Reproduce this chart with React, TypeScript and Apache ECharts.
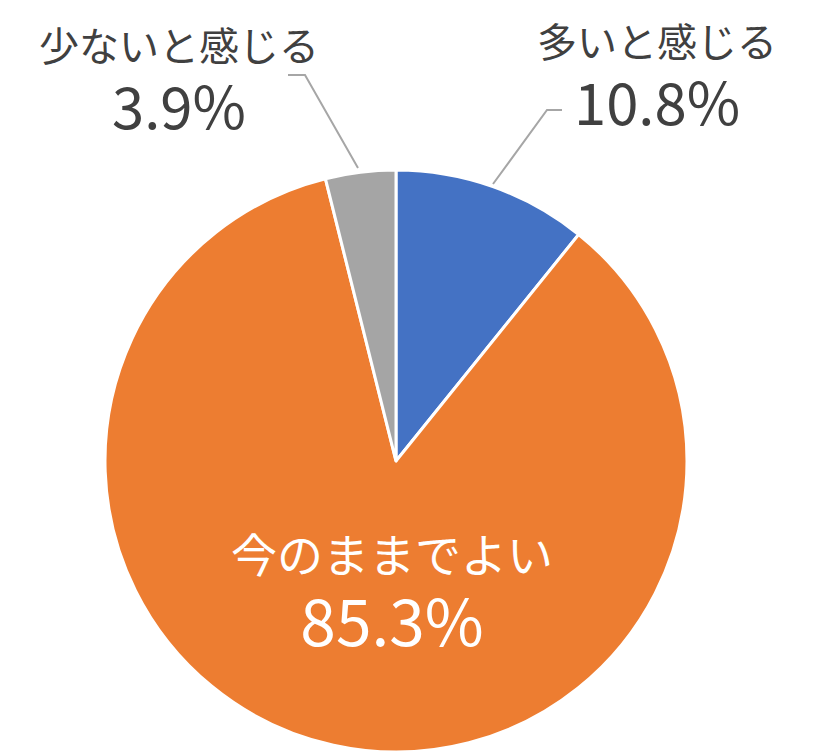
import React, { useEffect, useRef } from "react";
import * as echarts from "echarts";

const categories = ["多いと感じる", "今のままでよい", "少ないと感じる"];
const values = [10.8, 85.3, 3.9];
const colors = ["#4472C4", "#ED7D31", "#A5A5A5"];

const FONT = '"Noto Sans CJK JP", "Noto Sans", sans-serif';

export default function App() {
  const ref = useRef<HTMLDivElement>(null);
  useEffect(() => {
    if (!ref.current) return;
    const chart = echarts.init(ref.current, undefined, { renderer: "svg" });
    const data = categories.map((name, i) => ({
      name,
      value: values[i],
      itemStyle: { color: colors[i] },
      label: { position: i === 1 ? "inside" : "outside" },
      labelLine: { show: i !== 1 },
    }));
    chart.setOption({
      animation: false,
      backgroundColor: "#ffffff",
      series: [
        {
          type: "pie",
          center: [396, 461],
          radius: 291,
          startAngle: 90,
          clockwise: true,
          silent: true,
          data,
          itemStyle: { borderColor: "#ffffff", borderWidth: 3 },
          label: {
            show: true,
            fontFamily: FONT,
            formatter: (p: any) =>
              p.dataIndex === 1
                ? `{on|${p.name}}\n{ov|${p.value.toFixed(1)}%}`
                : `{n|${p.name}}\n{v|${p.value.toFixed(1)}%}`,
            rich: {
              n: { fontFamily: FONT, fontSize: 40, lineHeight: 56, color: "#404040", align: "center" },
              v: { fontFamily: FONT, fontSize: 58, lineHeight: 64, color: "#404040", align: "center" },
              on: { fontFamily: FONT, fontSize: 46, lineHeight: 60, color: "#ffffff", align: "center" },
              ov: { fontFamily: FONT, fontSize: 64, lineHeight: 72, color: "#ffffff", align: "center" },
            },
          },
          labelLine: {
            lineStyle: { color: "#A6A6A6", width: 2 },
          },
          labelLayout: (p: any) => {
            if (p.dataIndex === 0) {
              return {
                x: 657,
                y: 72,
                align: "center",
                verticalAlign: "middle",
                labelLinePoints: [
                  [493, 184],
                  [547, 110],
                  [562, 110],
                ],
              };
            }
            if (p.dataIndex === 2) {
              return {
                x: 179,
                y: 76,
                align: "center",
                verticalAlign: "middle",
                labelLinePoints: [
                  [358, 168],
                  [305, 75],
                  [288, 75],
                ],
              };
            }
            return { x: 392, y: 588, align: "center", verticalAlign: "middle" };
          },
        },
      ],
    });
    return () => chart.dispose();
  }, []);
  return (
    <div
      ref={ref}
      style={{ position: "absolute", left: 0, top: 0, width: 829, height: 756 }}
    />
  );
}
